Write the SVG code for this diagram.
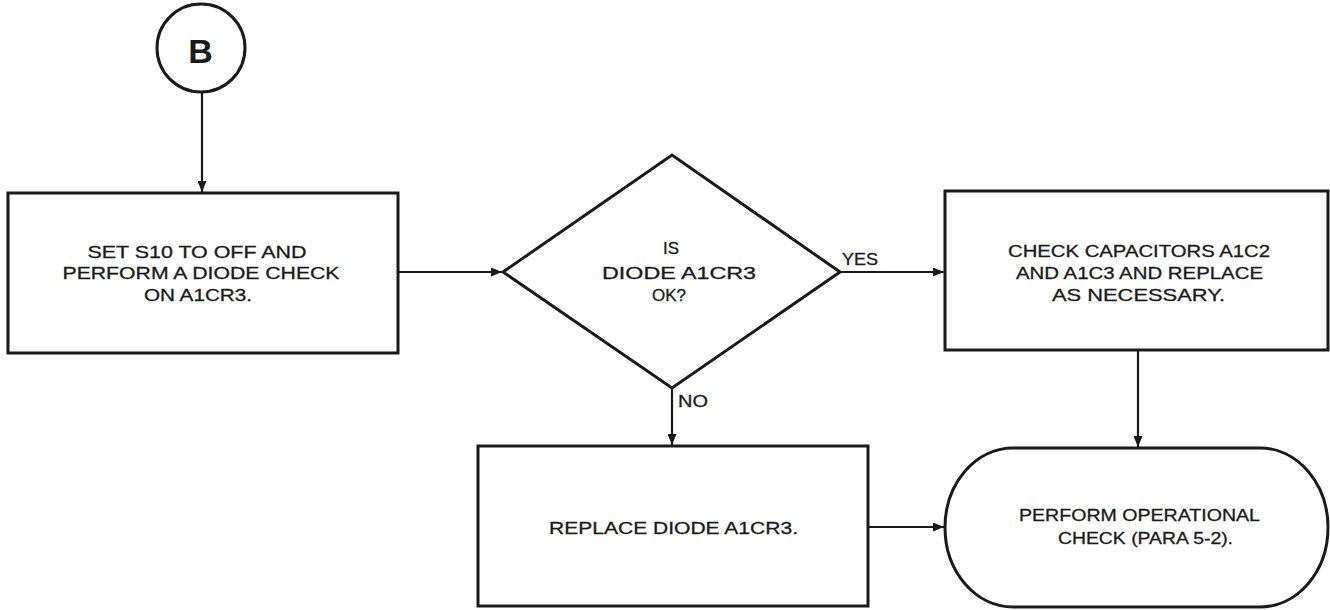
<svg xmlns="http://www.w3.org/2000/svg" width="1330" height="610" viewBox="0 0 1330 610">
<style>
.shape{fill:#fff;stroke:#1a1a1a;stroke-width:3}
.conn{fill:none;stroke:#1a1a1a;stroke-width:2.2}
.t{font-family:"Liberation Sans",Arial,sans-serif;font-size:16.5px;fill:#1a1a1a;stroke:#1a1a1a;stroke-width:0.3;text-anchor:middle}
.lbl{font-family:"Liberation Sans",Arial,sans-serif;font-size:16.5px;fill:#1a1a1a;stroke:#1a1a1a;stroke-width:0.3}
.big{font-family:"Liberation Sans",Arial,sans-serif;font-size:34px;font-weight:bold;fill:#1a1a1a;text-anchor:middle}
</style>
<defs>
<marker id="ah" markerUnits="userSpaceOnUse" markerWidth="12" markerHeight="9" refX="11" refY="4.5" orient="auto">
<path d="M0,0 L11,4.5 L0,9 z" fill="#1a1a1a"/>
</marker>
</defs>
<rect width="1330" height="610" fill="#fff"/>
<g id="connectors">
<line class="conn" x1="202" y1="92" x2="202" y2="192" marker-end="url(#ah)"/>
<line class="conn" x1="398" y1="272" x2="502" y2="272" marker-end="url(#ah)"/>
<line class="conn" x1="840" y1="272" x2="944" y2="272" marker-end="url(#ah)"/>
<line class="conn" x1="672" y1="388" x2="672" y2="445" marker-end="url(#ah)"/>
<line class="conn" x1="1138" y1="350" x2="1138" y2="447" marker-end="url(#ah)"/>
<line class="conn" x1="868" y1="527" x2="944" y2="527" marker-end="url(#ah)"/>
<text class="lbl" x="842" y="265" textLength="36" lengthAdjust="spacingAndGlyphs">YES</text>
<text class="lbl" x="678" y="407" textLength="30" lengthAdjust="spacingAndGlyphs">NO</text>
</g>
<g id="connectorB">
<circle class="shape" cx="201" cy="48" r="44"/>
<text class="big" x="200.5" y="63">B</text>
</g>
<g id="box1">
<rect class="shape" x="8" y="193" width="390" height="160"/>
<text class="t" x="197" y="257.5" textLength="219" lengthAdjust="spacingAndGlyphs">SET S10 TO OFF AND</text>
<text class="t" x="201" y="279" textLength="277" lengthAdjust="spacingAndGlyphs">PERFORM A DIODE CHECK</text>
<text class="t" x="198" y="300.5" textLength="108" lengthAdjust="spacingAndGlyphs">ON A1CR3.</text>
</g>
<g id="decision">
<polygon class="shape" points="503,272 672,155 840,272 672,388"/>
<text class="t" x="671" y="254" textLength="16" lengthAdjust="spacingAndGlyphs">IS</text>
<text class="t" x="679" y="278.5" textLength="154" lengthAdjust="spacingAndGlyphs">DIODE A1CR3</text>
<text class="t" x="669" y="301" textLength="34" lengthAdjust="spacingAndGlyphs">OK?</text>
</g>
<g id="box3">
<rect class="shape" x="945" y="191" width="383" height="159"/>
<text class="t" x="1139" y="257" textLength="262" lengthAdjust="spacingAndGlyphs">CHECK CAPACITORS A1C2</text>
<text class="t" x="1139.5" y="278.5" textLength="247" lengthAdjust="spacingAndGlyphs">AND A1C3 AND REPLACE</text>
<text class="t" x="1138.5" y="300.5" textLength="173" lengthAdjust="spacingAndGlyphs">AS NECESSARY.</text>
</g>
<g id="box2">
<rect class="shape" x="478" y="446" width="390" height="160"/>
<text class="t" x="673.5" y="534" textLength="249" lengthAdjust="spacingAndGlyphs">REPLACE DIODE A1CR3.</text>
</g>
<g id="terminal">
<rect class="shape" x="945" y="448" width="383" height="159" rx="68" ry="79.5"/>
<text class="t" x="1139.5" y="521" textLength="241" lengthAdjust="spacingAndGlyphs">PERFORM OPERATIONAL</text>
<text class="t" x="1145.5" y="544" textLength="175" lengthAdjust="spacingAndGlyphs">CHECK (PARA 5-2).</text>
</g>
</svg>
